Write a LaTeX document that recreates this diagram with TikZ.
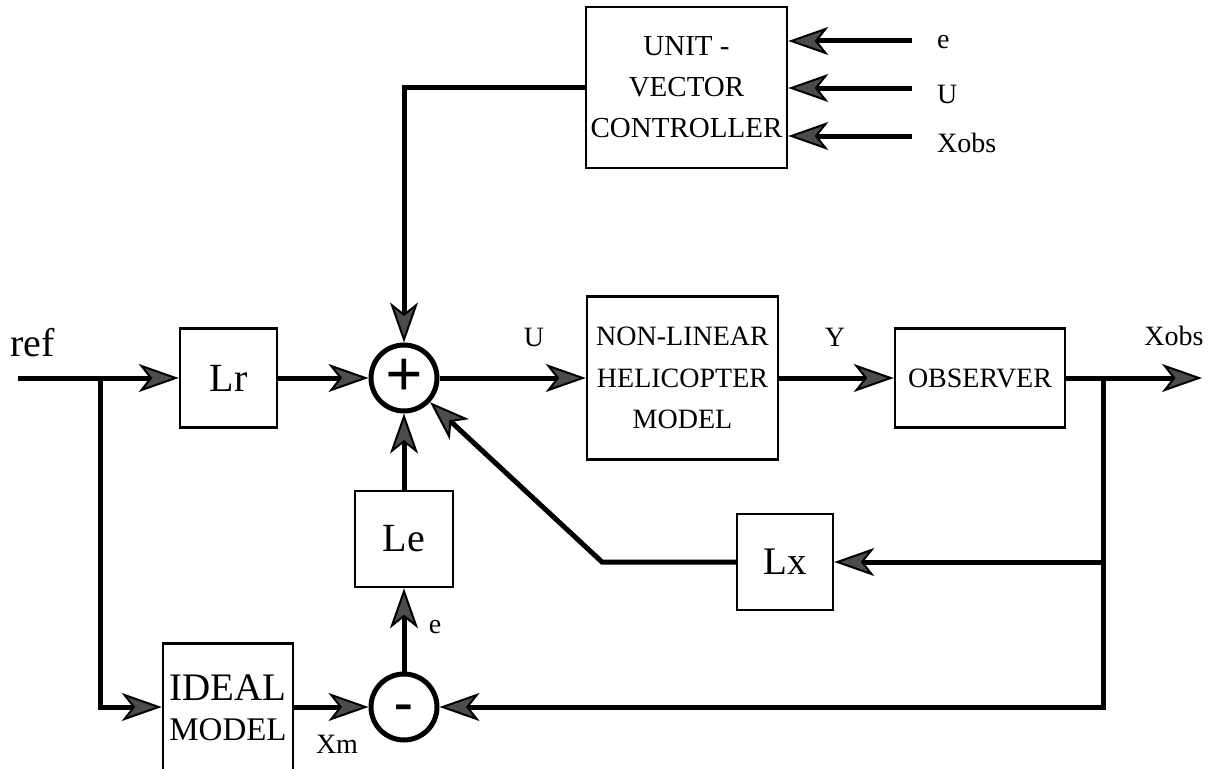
\documentclass[tikz,border=0pt]{standalone}
\usepackage{fontspec}
\setmainfont{Liberation Serif}
\usetikzlibrary{arrows.meta,calc}
\begin{document}
\begin{tikzpicture}[x=1pt,y=-1pt,
  blk/.style={draw, line width=2.5pt, inner sep=0pt, align=center},
  wire/.style={line width=5pt},
  arr/.style={wire, -{Stealth[length=40pt,width=28pt,inset=11pt,line width=2pt,fill=black!70]}},
  junc/.style={draw, circle, line width=5pt, minimum size=66pt, inner sep=0pt},
  lbl/.style={inner sep=0pt, font=\fontsize{28}{30}\selectfont},
]
\useasboundingbox (0,0) rectangle (1217,768);

% blocks
\node[blk, minimum width=201pt, minimum height=161pt, font=\fontsize{29}{41}\selectfont] (uvc) at (686.5,87.5) {UNIT -\\VECTOR\\CONTROLLER};
\node[blk, minimum width=191pt, minimum height=163pt, font=\fontsize{28}{41.5}\selectfont] (plant) at (682.5,378) {NON-LINEAR\\HELICOPTER\\MODEL};
\node[blk, minimum width=170pt, minimum height=99pt, font=\fontsize{28}{32}\selectfont] (obs) at (980,378) {OBSERVER};
\node[blk, minimum width=97pt, minimum height=99pt, font=\fontsize{40}{44}\selectfont] (lr) at (228.5,378) {Lr};
\node[blk, minimum width=98pt, minimum height=96pt, font=\fontsize{40}{44}\selectfont] (le) at (404,539) {Le};
\node[blk, minimum width=96pt, minimum height=96pt, font=\fontsize{39}{44}\selectfont] (lx) at (785,562) {Lx};
\node[blk, minimum width=130pt, minimum height=150pt, anchor=north] (ideal) at (228,642) {};
\node[align=center, inner sep=0pt, font=\fontsize{39}{40}\selectfont] (idealtxt) at (228,708) {IDEAL\\{\fontsize{33}{40}\selectfont MODEL}};

% junctions
\node[junc, font=\bfseries\fontsize{66}{66}\selectfont] (sum) at (404,378) {+};
\node[junc, font=\bfseries\fontsize{56}{56}\selectfont] (mn) at (404,707) {\raisebox{-13pt}[0pt][0pt]{-}};

% labels
\node[lbl, font=\fontsize{40}{40}\selectfont, anchor=base west] (ref) at (10,356) {ref};
\node[lbl] (uL) at (534,337) {U};
\node[lbl] (yL) at (835,337) {Y};
\node[lbl] (xoL) at (1174,336) {Xobs};
\node[lbl, anchor=west] (eT) at (937,42) {e};
\node[lbl, anchor=west] (uT) at (937,94) {U};
\node[lbl, anchor=west] (xT) at (937,143) {Xobs};
\node[lbl] (eB) at (435,627) {e};
\node[lbl] (xmL) at (337,744) {Xm};

% coordinates
\coordinate (in) at (18,378);
\coordinate (b1) at (100,378);
\coordinate (b2) at (1103,378);
\coordinate (out) at (1202,378);
\coordinate (dk) at (602,562);
\coordinate (ie) at (912,41);
\coordinate (iu) at (912,88);
\coordinate (ix) at (912,136);

% connectors
\draw[arr] (in) -- (lr);
\draw[arr] (b1) |- (ideal.west |- mn);
\draw[arr] (lr) -- (sum);
\draw[arr] (sum) -- (plant);
\draw[arr] (plant) -- (obs);
\draw[arr] (obs) -- (out);
\draw[arr] (b2) |- (mn);
\draw[arr] (b2 |- lx) -- (lx);
\draw[arr] (lx) -- (dk) -- (sum);
\draw[arr] (le) -- (sum);
\draw[arr] (mn) -- (le);
\draw[arr] (ideal.east |- mn) -- (mn);
\draw[arr] (uvc) -| (sum);
\draw[arr] (ie) -- (uvc.east |- ie);
\draw[arr] (iu) -- (uvc.east |- iu);
\draw[arr] (ix) -- (uvc.east |- ix);
\end{tikzpicture}
\end{document}
